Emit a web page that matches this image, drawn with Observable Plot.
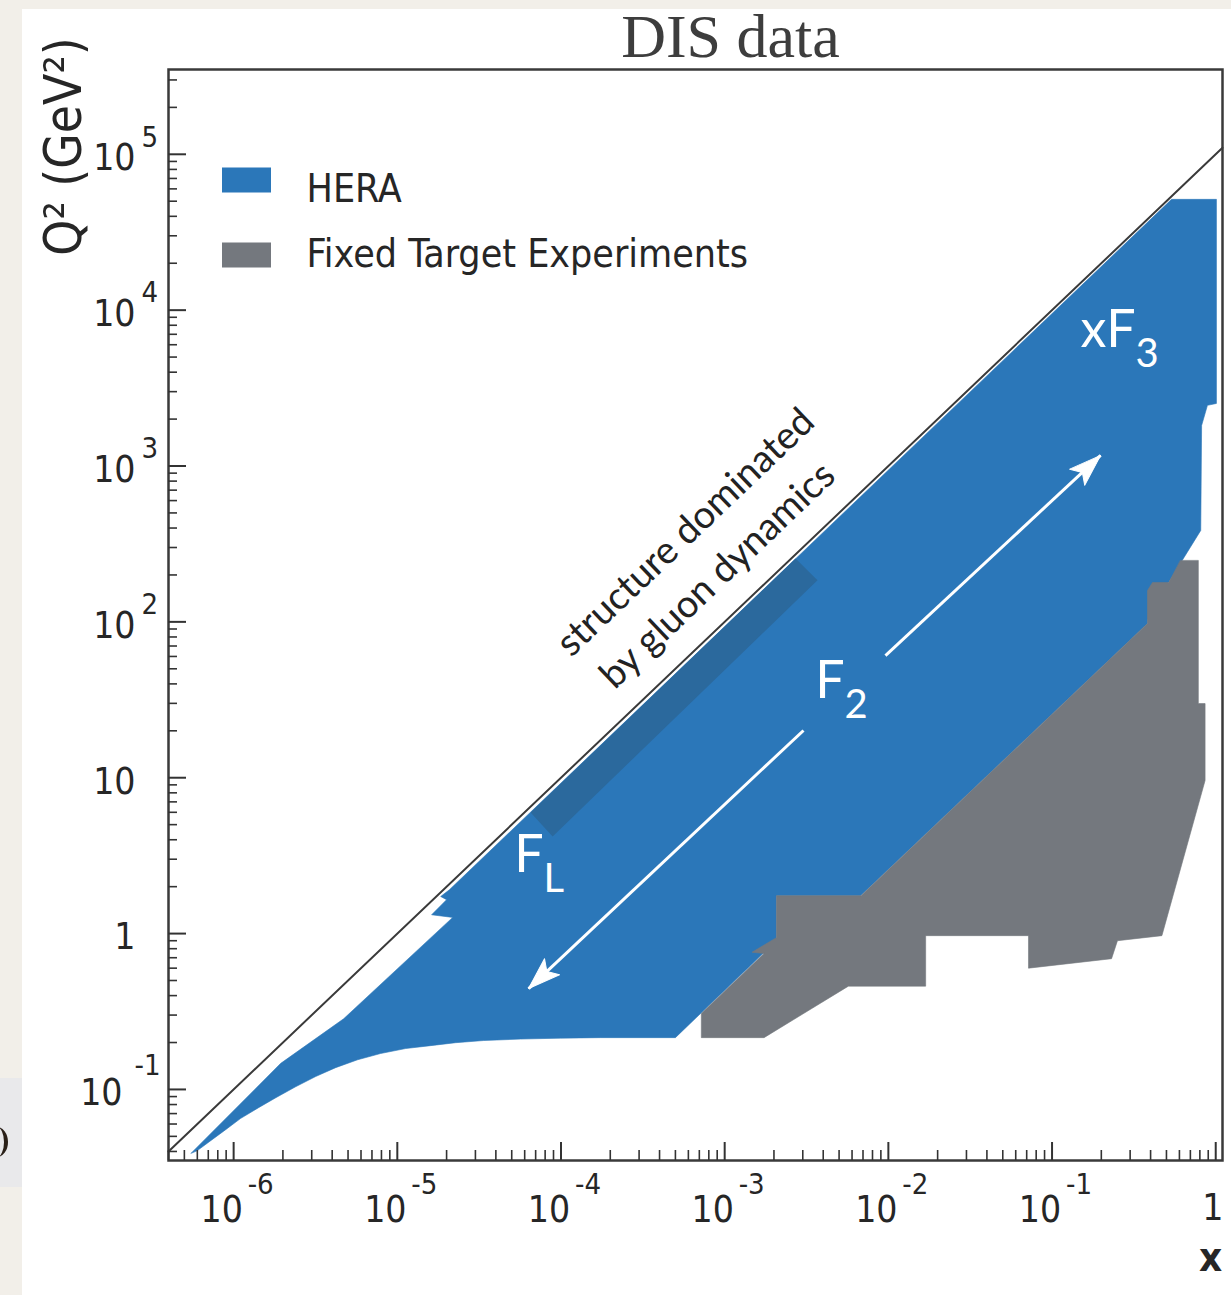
<!DOCTYPE html>
<html>
<head>
<meta charset="utf-8">
<script src="https://cdn.jsdelivr.net/npm/d3@7"></script>
<script src="https://cdn.jsdelivr.net/npm/@observablehq/plot@0.6"></script>
<style>
  html, body { margin: 0; padding: 0; }
  body { width: 1231px; height: 1295px; background: #f2efe9; position: relative; overflow: hidden; }
  #panel { position: absolute; left: 22px; top: 9px; width: 1209px; height: 1286px; background: #ffffff; }
  #side { position: absolute; left: 0; top: 1078px; width: 22px; height: 109px; background: #e9e9eb; overflow: hidden; }
  #side div { position: absolute; left: -14px; top: 49px; width: 18px; height: 30px; border-right: 4px solid #2a2018; border-radius: 50%; }
  #chart { position: absolute; left: 0; top: 0; }
</style>
</head>
<body>
<div id="panel"></div>
<div id="side"><div></div></div>
<div id="chart"></div>
<script>
// ---------- data (x, Q^2) ----------
const xDomain = [4e-7, 1.1];
const yDomain = [0.035, 3.5e5];

// HERA kinematic coverage (outline)
const heraX  = [5.5e-7, 1.94e-6, 4.7e-6, 2.18e-5, 1.62e-5, 2.0e-5, 1.84e-5, 2.08e-5, 0.537, 1.01, 1.01, 0.89, 0.82, 0.81, 0.515, 0.40, 0.383, 6.76e-3, 2.07e-3, 2.07e-3,
                5.0e-4, 1.75e-4, 9.94e-5, 5.66e-5, 3.37e-5, 2.27e-5, 1.597e-5, 1.124e-5, 7.9e-6, 5.72e-6, 4.20e-6, 3.17e-6, 2.39e-6, 1.81e-6, 1.42e-6, 1.10e-6, 8.94e-7, 7.24e-7, 6.0e-7];
const heraQ2 = [0.039, 0.147, 0.284, 1.27, 1.32, 1.65, 1.73, 1.91, 51400, 51400, 2520, 2450, 1820, 386, 179, 159, 97.7, 1.75, 1.75, 0.90,
                0.215, 0.215, 0.2134, 0.2104, 0.206, 0.1995, 0.191, 0.183, 0.170, 0.155, 0.138, 0.121, 0.104, 0.0885, 0.0764, 0.065, 0.0552, 0.0469, 0.0405];

// Fixed target experiments coverage (outline)
const fixedX  = [0.610, 0.783, 0.783, 0.861, 0.861, 0.469, 0.251, 0.231, 0.0718, 0.0718, 0.0169, 0.0169, 5.7e-3, 1.74e-3, 7.2e-4, 7.2e-4, 1.74e-3, 1.47e-3, 2.07e-3, 2.07e-3, 6.8e-3, 0.383, 0.383, 0.411, 0.515];
const fixedQ2 = [248, 248, 29.9, 29.9, 9.6, 0.97, 0.90, 0.69, 0.60, 0.97, 0.97, 0.46, 0.46, 0.215, 0.215, 0.307, 0.745, 0.759, 0.942, 1.75, 1.75, 97.7, 159, 179, 179];

// F_L measurement band (darker strip)
const bandX  = [6.52e-5, 2.71e-3, 3.69e-3, 8.89e-5];
const bandQ2 = [5.98, 255, 185, 4.20];

// kinematic limit Q^2 = s x
const limitX  = [4e-7, 1.1];
const limitQ2 = [0.04, 1.1e5];

// arrows
const arrowX1 = [9.6e-3, 3.03e-3];
const arrowY1 = [60.8, 20.1];
const arrowX2 = [0.198, 6.34e-5];
const arrowY2 = [1170, 0.444];
const arrowAngle = [47, 227];

// structure function labels
const fLabelX  = [7.83e-5, 5.40e-3, 0.324];
const fLabelQ2 = [2.50, 32.7, 5770];
const fMain = ["F", "F", "xF"];
const fSub  = ["L", "2", "3"];

// annotation
const noteX  = [5.77e-4, 9.06e-4];
const noteQ2 = [375, 199];
const noteText = ["structure dominated", "by gluon dynamics"];

// legend
const legendLabels = ["HERA", "Fixed Target Experiments"];
const legendColors = ["#2b77b9", "#74787e"];

// ticks
const xDecades = [1e-6, 1e-5, 1e-4, 1e-3, 1e-2, 1e-1, 1];
const xBase = ["10", "10", "10", "10", "10", "10", "1"];
const xExp  = ["-6", "-5", "-4", "-3", "-2", "-1", ""];
const yDecades = [0.1, 1, 10, 100, 1e3, 1e4, 1e5];
const yBase = ["10", "1", "10", "10", "10", "10", "10"];
const yExp  = ["-1", "", "", "2", "3", "4", "5"];

// ---------- tables ----------
const toRows = (xs, ys) => xs.map((x, i) => ({x, q2: ys[i]}));
const hera = toRows(heraX, heraQ2);
const fixed = toRows(fixedX, fixedQ2);
const band = toRows(bandX, bandQ2);
const limit = toRows(limitX, limitQ2);
const arrows = arrowX1.map((x1, i) => ({x1, y1: arrowY1[i], x2: arrowX2[i], y2: arrowY2[i], angle: arrowAngle[i]}));
const fLabels = fLabelX.map((x, i) => ({x, q2: fLabelQ2[i], main: fMain[i], sub: fSub[i]}));
const notes = noteX.map((x, i) => ({x, q2: noteQ2[i], text: noteText[i]}));
const xLab = xDecades.map((v, i) => ({v, base: xBase[i], exp: xExp[i]}));
const yLab = yDecades.map((v, i) => ({v, base: yBase[i], exp: yExp[i]}));

function minorTicks([lo, hi]) {
  const out = [];
  for (let e = Math.floor(Math.log10(lo)); e <= Math.ceil(Math.log10(hi)); e++)
    for (let m = 2; m <= 9; m++) { const v = m * Math.pow(10, e); if (v >= lo && v <= hi) out.push(v); }
  return out;
}

const FONT = '"DejaVu Sans Condensed", "DejaVu Sans", sans-serif';
const HUM = 'Lato, "Open Sans", sans-serif';
const INK = "#262626";

const headShape = {
  draw(ctx, l) {
    ctx.moveTo(0, -l);
    ctx.lineTo(11, 0);
    ctx.lineTo(0, -l * 0.22);
    ctx.lineTo(-11, 0);
    ctx.closePath();
  }
};
const swatch = {
  draw(ctx) { ctx.rect(-24.5, -12.5, 49, 25); }
};

const plot = Plot.plot({
  width: 1231,
  height: 1295,
  marginTop: 69,
  marginRight: 9,
  marginBottom: 135,
  marginLeft: 168,
  style: {background: "transparent", fontFamily: FONT, overflow: "visible"},
  x: {type: "log", domain: xDomain},
  y: {type: "log", domain: yDomain},
  marks: [
    Plot.line(hera, {x: "x", y: "q2", curve: "linear-closed", fill: "#2b77b9", stroke: "#2b77b9", strokeWidth: 0.6}),
    Plot.line(fixed, {x: "x", y: "q2", curve: "linear-closed", fill: "#74787e", stroke: "#74787e", strokeWidth: 0.6}),
    Plot.line(band, {x: "x", y: "q2", curve: "linear-closed", fill: "#2b699d", stroke: "none"}),
    Plot.line(limit, {x: "x", y: "q2", stroke: "#3a3a3a", strokeWidth: 2}),
    Plot.link(arrows, {x1: "x1", y1: "y1", x2: "x2", y2: "y2", stroke: "white", strokeWidth: 3}),
    Plot.vector(arrows, {x: "x2", y: "y2", rotate: "angle", length: 32, anchor: "end", shape: headShape, fill: "white", stroke: "white", strokeWidth: 1}),
    // structure function labels
    Plot.text(fLabels, {x: "x", y: "q2", text: "main", textAnchor: "end", lineAnchor: "bottom", fill: "white", fontFamily: HUM, fontSize: 52}),
    Plot.text(fLabels, {x: "x", y: "q2", text: "sub", textAnchor: "start", lineAnchor: "bottom", dx: 0, dy: 20, fill: "white", fontFamily: HUM, fontSize: 40}),
    // annotation
    Plot.text(notes, {x: "x", y: "q2", text: "text", rotate: -43.6, textAnchor: "middle", lineAnchor: "middle", fill: "#222", fontFamily: HUM, fontSize: 38}),
    // frame and axes
    Plot.frame({stroke: "#3a3a3a", strokeWidth: 2.5}),
    Plot.axisX(xDecades, {tickSize: -18, tickFormat: () => "", label: null, stroke: "#333", strokeWidth: 2}),
    Plot.axisX(minorTicks(xDomain), {tickSize: -10, tickFormat: () => "", label: null, stroke: "#333", strokeWidth: 1.6}),
    Plot.axisY(yDecades, {tickSize: -18, tickFormat: () => "", label: null, stroke: "#333", strokeWidth: 2}),
    Plot.axisY(minorTicks(yDomain), {tickSize: -9, tickFormat: () => "", label: null, stroke: "#333", strokeWidth: 1.6}),
    // x tick labels
    Plot.text(xLab.filter(d => d.exp), {x: "v", text: "base", frameAnchor: "bottom", dx: -12, dy: 50, textAnchor: "middle", lineAnchor: "middle", fill: INK, fontSize: 37}),
    Plot.text(xLab.filter(d => d.exp), {x: "v", text: "exp", frameAnchor: "bottom", dx: 14, dy: 24, textAnchor: "start", lineAnchor: "middle", fill: INK, fontSize: 29}),
    Plot.text(xLab.filter(d => !d.exp), {x: "v", text: "base", frameAnchor: "bottom", dx: -3, dy: 48, textAnchor: "middle", lineAnchor: "middle", fill: INK, fontSize: 37}),
    // y tick labels
    Plot.text(yLab.filter(d => d.exp && !d.exp.startsWith("-")), {y: "v", text: "base", frameAnchor: "left", dx: -33, dy: 4, textAnchor: "end", lineAnchor: "middle", fill: INK, fontSize: 37}),
    Plot.text(yLab.filter(d => d.exp && !d.exp.startsWith("-")), {y: "v", text: "exp", frameAnchor: "left", dx: -27, dy: -17, textAnchor: "start", lineAnchor: "middle", fill: INK, fontSize: 29}),
    Plot.text(yLab.filter(d => d.exp.startsWith("-")), {y: "v", text: "base", frameAnchor: "left", dx: -46, dy: 4, textAnchor: "end", lineAnchor: "middle", fill: INK, fontSize: 37}),
    Plot.text(yLab.filter(d => d.exp.startsWith("-")), {y: "v", text: "exp", frameAnchor: "left", dx: -34, dy: -24, textAnchor: "start", lineAnchor: "middle", fill: INK, fontSize: 29}),
    Plot.text(yLab.filter(d => !d.exp), {y: "v", text: "base", frameAnchor: "left", dx: -33, dy: 4, textAnchor: "end", lineAnchor: "middle", fill: INK, fontSize: 37}),
    // axis titles
    Plot.text(["Q² (GeV²)"], {frameAnchor: "top-left", dx: -88, dy: 77, rotate: -90, textAnchor: "middle", lineAnchor: "bottom", fill: INK, fontSize: 51}),
    Plot.text(["x"], {frameAnchor: "bottom-right", dx: -12, dy: 110, textAnchor: "middle", lineAnchor: "bottom", fill: INK, fontSize: 40, fontWeight: "bold"}),
    // title
    Plot.text(["DIS data"], {frameAnchor: "top-left", dx: 562, dy: -12.5, textAnchor: "middle", lineAnchor: "bottom", fill: "#3d3d3d", fontSize: 62, fontFamily: '"Liberation Serif", serif'}),
    // legend
    ...legendLabels.flatMap((label, i) => [
      Plot.dot([label], {frameAnchor: "top-left", dx: 78, dy: 110.5 + i * 75, symbol: swatch, fill: legendColors[i], stroke: "none"}),
      Plot.text([label], {frameAnchor: "top-left", dx: 138, dy: 132.7 + i * 64.3, textAnchor: "start", lineAnchor: "bottom", fill: INK, fontSize: 39})
    ])
  ]
});
document.getElementById("chart").appendChild(plot);
</script>
</body>
</html>
